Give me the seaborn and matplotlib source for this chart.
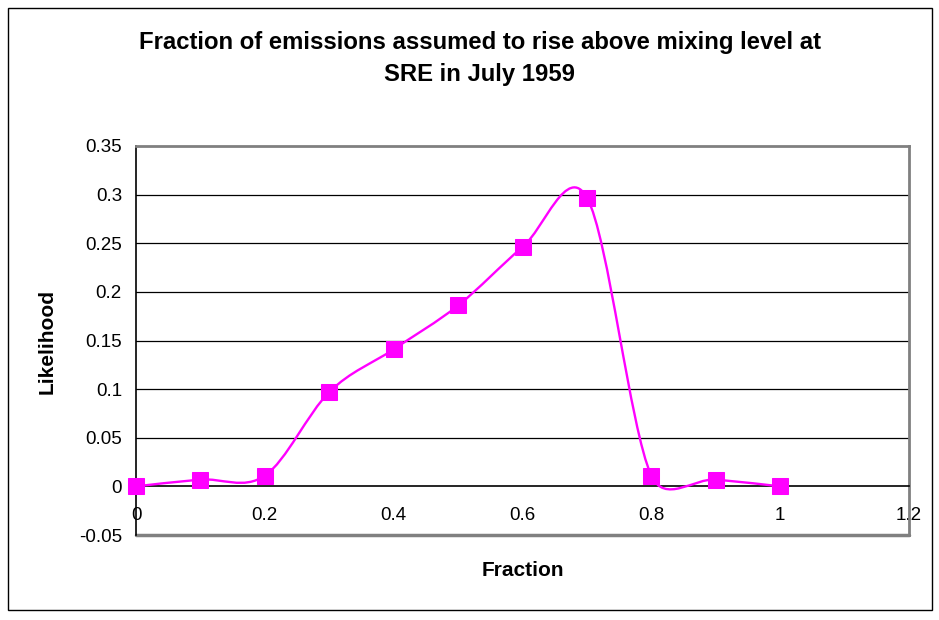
import numpy as np
import pandas as pd
import seaborn as sns
import matplotlib
matplotlib.use("Agg")
import matplotlib.pyplot as plt
from matplotlib.path import Path
from matplotlib.patches import PathPatch, Rectangle

# Data
fraction = [0.0, 0.1, 0.2, 0.3, 0.4, 0.5, 0.6, 0.7, 0.8, 0.9, 1.0]
likelihood = [0.0, 0.007, 0.011, 0.097, 0.141, 0.186, 0.246, 0.297, 0.011, 0.007, 0.0]
x_ticks = [0, 0.2, 0.4, 0.6, 0.8, 1, 1.2]
x_tick_labels = ["0", "0.2", "0.4", "0.6", "0.8", "1", "1.2"]
y_ticks = [-0.05, 0, 0.05, 0.1, 0.15, 0.2, 0.25, 0.3, 0.35]
y_tick_labels = ["-0.05", "0", "0.05", "0.1", "0.15", "0.2", "0.25", "0.3", "0.35"]

df = pd.DataFrame({"Fraction": fraction, "Likelihood": likelihood})

sns.set_style("white")
plt.rcParams["font.family"] = ["Liberation Sans", "DejaVu Sans"]
plt.rcParams["text.color"] = "black"

fig = plt.figure(figsize=(9.39, 6.2), dpi=100)
ax = fig.add_axes([136 / 939, 1 - 535 / 620, 773 / 939, 389 / 620])

ax.set_xlim(0, 1.2)
ax.set_ylim(-0.05, 0.35)

# horizontal gridlines
for y in y_ticks[2:-1]:
    ax.axhline(y, color="#000000", lw=0.9, zorder=1)

# Excel-style smoothed line: Bezier through the points, control arms
# capped at half the segment length (measured on screen)
pts = np.column_stack([df["Fraction"], df["Likelihood"]])
scale = np.array([773 / 1.2, 389 / 0.4])


def dist(a, b):
    return np.hypot(*((b - a) * scale))


verts = [tuple(pts[0])]
codes = [Path.MOVETO]
n = len(pts)
for i in range(n - 1):
    p0 = pts[max(i - 1, 0)]
    p1 = pts[i]
    p2 = pts[i + 1]
    p3 = pts[min(i + 2, n - 1)]
    d12 = dist(p1, p2)
    d02 = dist(p0, p2)
    d13 = dist(p1, p3)
    f0 = 1 / 6 if d02 / 6 < d12 / 2 else (d12 / 2) / d02
    f3 = 1 / 6 if d13 / 6 < d12 / 2 else (d12 / 2) / d13
    c1 = p1 + (p2 - p0) * f0
    c2 = p2 - (p3 - p1) * f3
    verts += [tuple(c1), tuple(c2), tuple(p2)]
    codes += [Path.CURVE4] * 3
ax.add_patch(PathPatch(Path(verts, codes), facecolor="none", edgecolor="#FF00FF",
                       lw=1.7, zorder=3))

sns.lineplot(data=df, x="Fraction", y="Likelihood", ax=ax, linestyle="none",
             marker="s", markersize=11.5, color="#FF00FF", markeredgecolor="#FF00FF",
             zorder=4, clip_on=False)

# axes styling
ax.spines["bottom"].set_position(("data", 0))
ax.spines["bottom"].set_color("black")
ax.spines["bottom"].set_linewidth(1.2)
ax.spines["left"].set_color("black")
ax.spines["left"].set_linewidth(1.2)
ax.spines["top"].set_color("#808080")
ax.spines["top"].set_linewidth(2)
ax.spines["right"].set_color("#808080")
ax.spines["right"].set_linewidth(2)
ax.axhline(-0.05, color="#808080", lw=2.5, zorder=2, clip_on=False)

ax.set_xticks(x_ticks)
ax.set_xticklabels(x_tick_labels)
ax.set_yticks(y_ticks)
ax.set_yticklabels(y_tick_labels)
ax.tick_params(axis="both", direction="out", width=1, colors="black",
               labelsize=13.5)
ax.tick_params(axis="x", length=4.5, pad=10.5)
ax.tick_params(axis="y", length=3.6, pad=6.5)
ax.set_xlabel("")
ax.set_ylabel("")

fig.text(523 / 939, 1 - 571 / 620, "Fraction", ha="center", va="center",
         fontsize=15, fontweight="bold", color="black")
fig.text(47 / 939, 1 - 341 / 620, "Likelihood", ha="center", va="center",
         rotation=90, fontsize=15, fontweight="bold", color="black")

fig.text(480 / 939, 1 - 42 / 620, "Fraction of emissions assumed to rise above mixing level at",
         ha="center", va="center", fontsize=17.2, fontweight="bold", color="black")
fig.text(480 / 939, 1 - 75 / 620, "SRE in July 1959",
         ha="center", va="center", fontsize=17.2, fontweight="bold", color="black")

# outer chart frame
fig.add_artist(Rectangle((8 / 939, 1 - 610 / 620), 924 / 939, 602 / 620,
                         transform=fig.transFigure, fill=False,
                         edgecolor="black", lw=1))

fig.savefig("out.png", dpi=100)
